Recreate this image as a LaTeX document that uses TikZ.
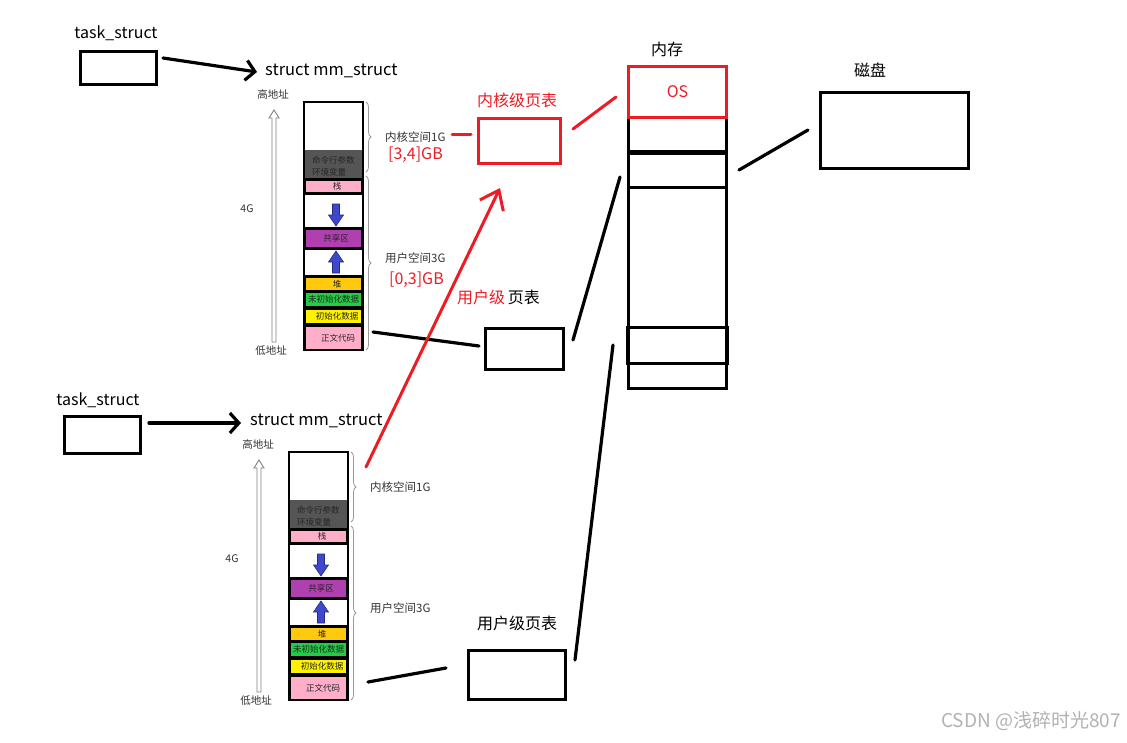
\documentclass[tikz,border=0pt]{standalone}
\usepackage{fontspec}
\setmainfont{Noto Sans CJK SC}
\usetikzlibrary{arrows.meta,decorations.pathreplacing}
\definecolor{pred}{HTML}{ED1C24}
\definecolor{pinkc}{HTML}{FFAEC9}
\definecolor{purplec}{HTML}{B040B0}
\definecolor{orangec}{HTML}{FFC90E}
\definecolor{greenc}{HTML}{22CC44}
\definecolor{yellowc}{HTML}{FFF200}
\definecolor{dkgray}{HTML}{555555}
\definecolor{arrowblue}{HTML}{3F48CC}
\definecolor{txtc}{HTML}{333333}
\newcommand\memcolumn[1]{%
  % top white + dark part
  \fill[dkgray] (0,48) rectangle (59,77);
  \draw[seg] (0,0) rectangle (59,77);
  \node[segtxt,anchor=west,text=black!85] (#1cmd) at (8,58) {命令行参数};
  \node[segtxt,anchor=west,text=black!85] (#1env) at (8,70) {环境变量};
  \draw[seg,fill=pinkc] (1,78) rectangle (58,91);
  \node[segtxt] (#1stack) at (33,84.5) {栈};
  \draw[seg] (0,92) rectangle (59,126);
  \draw[seg,fill=purplec] (1,127) rectangle (58,146);
  \node[segtxt] (#1share) at (32,136.5) {共享区};
  \draw[seg] (0,147) rectangle (59,174);
  \draw[seg,fill=orangec] (1,175) rectangle (58,189);
  \node[segtxt] (#1heap) at (33,182) {堆};
  \draw[seg,fill=greenc] (1,190) rectangle (58,205);
  \node[segtxt] (#1bss) at (29.5,197.5) {未初始化数据};
  \draw[seg,fill=yellowc] (1,207) rectangle (58,222);
  \node[segtxt] (#1data) at (33,214.5) {初始化数据};
  \draw[seg,fill=pinkc] (1,224) rectangle (58,248);
  \node[segtxt] (#1code) at (34,236) {正文代码};
  \draw[line width=2.6pt] (0,0) rectangle (59,248);
  % blue arrows
  \filldraw[barrow] (28.5,102) -- (35.5,102) -- (35.5,113) -- (39.5,113) -- (32,124) -- (24.5,113) -- (28.5,113) -- cycle;
  \filldraw[barrow] (32,149) -- (39.5,160) -- (35.5,160) -- (35.5,171) -- (28.5,171) -- (28.5,160) -- (24.5,160) -- cycle;
  % braces
  \draw[brc] (62,0) -- (62,70);
  \draw[brc] (62,74) -- (62,248);
  \node[bracelbl,anchor=west] (#1kspace) at (81,35) {内核空间1G};
  \node[bracelbl,anchor=west] (#1uspace) at (81,156) {用户空间3G};
  % hollow address arrow
  \draw[gray,line width=0.9pt,fill=white] (-30,8) -- (-25,16) -- (-28,16) -- (-28,240) -- (-32,240) -- (-32,16) -- (-35,16) -- cycle;
  \node[addr] (#1high) at (-31,-8) {高地址};
  \node[addr] (#1low) at (-33,249) {低地址};
  \node[addr] (#1four) at (-57,107) {4G};
}
\begin{document}
\begin{tikzpicture}[x=1pt,y=-1pt,
  box/.style={draw=black,line width=3pt,inner sep=0pt},
  rbox/.style={draw=pred,line width=3pt,inner sep=0pt},
  seg/.style={draw=black,line width=1.9pt},
  segtxt/.style={font=\fontsize{8.5}{10}\selectfont,inner sep=0pt,text=black!85},
  barrow/.style={fill=arrowblue,draw=arrowblue!60!black,line width=0.6pt},
  brc/.style={draw=gray!80,line width=0.8pt,decorate,decoration={brace,amplitude=5pt}},
  bracelbl/.style={font=\fontsize{11.5}{13}\selectfont,inner sep=0pt,text=txtc},
  addr/.style={font=\fontsize{10.5}{12}\selectfont,inner sep=0pt,text=txtc},
  lbl/.style={font=\fontsize{16}{18}\selectfont,inner sep=0pt,text=black},
  rlbl/.style={font=\fontsize{16}{18}\selectfont,inner sep=0pt,text=pred},
  conn/.style={draw=black,line width=3.2pt,line cap=round},
  rconn/.style={draw=pred,line width=3pt,line cap=round},
  ptr/.style={conn,-{Straight Barb[length=9pt,width=20pt]}},
]
\useasboundingbox[fill=white] (0,0) rectangle (1127,742);

% ---------- upper process ----------
\node[lbl] (tname1) at (116,33) {task\_struct};
\node[box,anchor=north west,minimum width=76pt,minimum height=33pt] (task1) at (79,50) {};
\node[lbl,anchor=west,font=\fontsize{16.5}{18}\selectfont] (mm1) at (265,71) {struct mm\_struct};
\coordinate (a1s) at (163,58);
\coordinate (a1e) at (257,72);
\draw[ptr] (a1s) -- (a1e);
\begin{scope}[shift={(304,102)}]
  \memcolumn{u}
\end{scope}
\node[rlbl,anchor=west] (r34) at (388,155) {[3,4]GB};
\node[rlbl,anchor=west] (r03) at (389,280) {[0,3]GB};

% ---------- lower process ----------
\node[lbl] (tname2) at (98,400) {task\_struct};
\node[box,anchor=north west,minimum width=76pt,minimum height=37pt] (task2) at (63,415) {};
\node[lbl,anchor=west,font=\fontsize{16.5}{18}\selectfont] (mm2) at (250,421) {struct mm\_struct};
\coordinate (a2s) at (149,423);
\coordinate (a2e) at (241,423);
\draw[ptr] (a2s) -- (a2e);
\begin{scope}[shift={(289,452)}]
  \memcolumn{l}
\end{scope}

% ---------- kernel page table ----------
\node[rlbl] (kptl) at (517,100) {内核级页表};
\node[rbox,anchor=north west,minimum width=82pt,minimum height=45pt] (kpt) at (477,117) {};
\coordinate (k1s) at (452,134);
\coordinate (k1e) at (471,134);
\draw[rconn] (k1s) -- (k1e);

% ---------- user page tables ----------
\node[anchor=west,inner sep=0pt,font=\fontsize{16}{18}\selectfont] (uptl) at (457,297) {\textcolor{pred}{用户级}\,页表};
\node[box,anchor=north west,minimum width=78pt,minimum height=41pt] (upt1) at (484,327) {};
\node[lbl] (uptl2) at (517,623) {用户级页表};
\node[box,anchor=north west,minimum width=97pt,minimum height=49pt] (upt2) at (467,649) {};
\coordinate (u1s) at (373,332);
\coordinate (u1e) at (479,346);
\draw[conn] (u1s) -- (u1e);
\coordinate (u2s) at (368,682);
\coordinate (u2e) at (446,668);
\draw[conn] (u2s) -- (u2e);

% ---------- red pointer ----------
\coordinate (rps) at (366,467);
\coordinate (rpe) at (500,188);
\draw[rconn,-{Straight Barb[length=17pt,width=26pt]}] (rps) -- (rpe);

% ---------- memory ----------
\node[lbl] (meml) at (667,49) {内存};
\node[box,anchor=north west,minimum width=98pt,minimum height=322pt] (mem) at (627,65) {};
\draw[line width=3pt] (627,151) -- (725,151);
\draw[line width=3pt] (627,153.5) -- (725,153.5);
\draw[line width=3pt] (627,187) -- (725,187);
\draw[line width=3pt] (627,327) rectangle (727,363);
\draw[line width=3.6pt] (727,327) -- (727,363);
\node[rbox,anchor=north west,minimum width=98pt,minimum height=51pt,font=\fontsize{16}{18}\selectfont,text=pred] (os) at (627,65) {OS};
\coordinate (o1s) at (573,129);
\coordinate (o1e) at (616,97);
\draw[rconn] (o1s) -- (o1e);
\coordinate (m1s) at (573,340);
\coordinate (m1e) at (620,177);
\draw[conn] (m1s) -- (m1e);
\coordinate (m2s) at (613,345);
\coordinate (m2e) at (575,660);
\draw[conn] (m2s) -- (m2e);

% ---------- disk ----------
\node[lbl] (diskl) at (870,70) {磁盘};
\node[box,anchor=north west,minimum width=148pt,minimum height=76pt] (disk) at (819,91) {};
\coordinate (d1s) at (739,170);
\coordinate (d1e) at (808,130);
\draw[conn] (d1s) -- (d1e);

% ---------- watermark ----------
\node[anchor=east,inner sep=0pt,font=\fontsize{19}{22}\selectfont,text=black!30] (wm) at (1121,721) {CSDN @浅碎时光807};
\end{tikzpicture}
\end{document}
